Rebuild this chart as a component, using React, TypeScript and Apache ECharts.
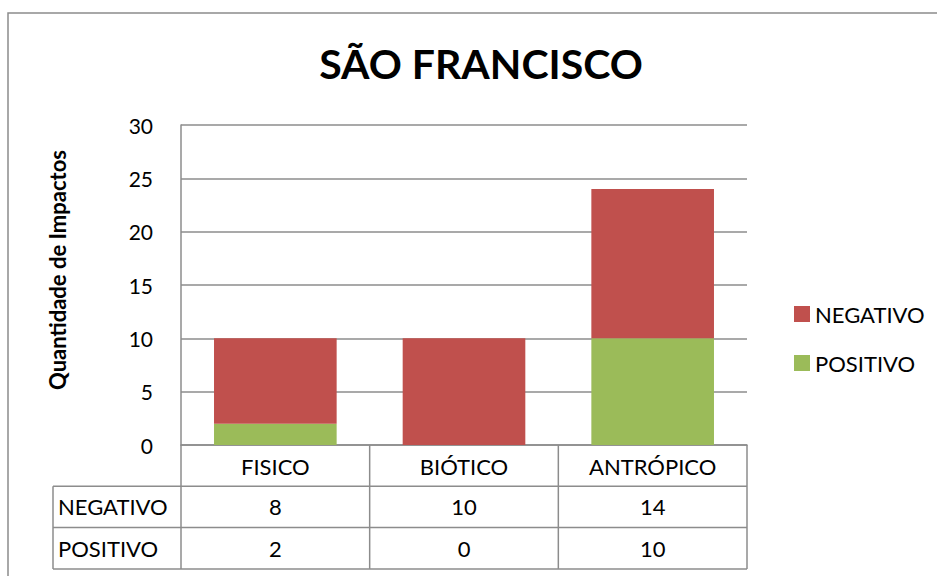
import React, { useEffect, useRef } from "react";
import * as echarts from "echarts";

const TITLE = "SÃO FRANCISCO";
const Y_NAME = "Quantidade de Impactos";
const categories = ["FISICO", "BIÓTICO", "ANTRÓPICO"];
const seriesNames = ["NEGATIVO", "POSITIVO"];
const negativo = [8, 10, 14];
const positivo = [2, 0, 10];
const yTicks = { min: 0, max: 30, interval: 5 };

const RED = "#C0504D";
const GREEN = "#9BBB59";
const LINE = "#8c8c8c";
const FONT = "Lato";

export default function App() {
  const ref = useRef<HTMLDivElement>(null);
  useEffect(() => {
    document.body.style.margin = "0";
    if (!ref.current) return;
    const chart = echarts.init(ref.current, undefined, { renderer: "svg" });

    const W = 937, H = 576;
    const gl = 181, gr = 747, gt = 125, gb = 445;
    const rowH = 41.3;
    const tableLeft = 53;
    const colW = (gr - gl) / categories.length;
    const rowsY = [gb + rowH, gb + 2 * rowH, gb + 3 * rowH];
    const tableBottom = rowsY[2];

    const graphics: any[] = [];
    graphics.push({
      type: "rect",
      shape: { x: 8, y: 13, width: 960, height: 620 },
      style: { fill: "none", stroke: LINE, lineWidth: 1.5 },
      silent: true,
    });
    for (let i = 0; i <= categories.length; i++) {
      const x = gl + i * colW;
      graphics.push({
        type: "line",
        shape: { x1: x, y1: gb, x2: x, y2: tableBottom },
        style: { stroke: LINE, lineWidth: 1.5 },
        silent: true,
      });
    }
    graphics.push({
      type: "line",
      shape: { x1: tableLeft, y1: rowsY[0], x2: tableLeft, y2: tableBottom },
      style: { stroke: LINE, lineWidth: 1.5 },
      silent: true,
    });
    rowsY.forEach((y) => {
      graphics.push({
        type: "line",
        shape: { x1: tableLeft, y1: y, x2: gr, y2: y },
        style: { stroke: LINE, lineWidth: 1.5 },
        silent: true,
      });
    });
    const rowsData = [negativo, positivo];
    seriesNames.forEach((name, r) => {
      const cy = rowsY[r] + rowH / 2;
      graphics.push({
        type: "text",
        x: 58,
        y: cy,
        style: { text: name, fontSize: 22, fontFamily: FONT, fill: "#000", align: "left", verticalAlign: "middle" },
        silent: true,
      });
      rowsData[r].forEach((v, i) => {
        graphics.push({
          type: "text",
          x: gl + (i + 0.5) * colW,
          y: cy,
          style: { text: String(v), fontSize: 22, fontFamily: FONT, fill: "#000", align: "center", verticalAlign: "middle" },
          silent: true,
        });
      });
    });
    graphics.push({
      type: "text",
      x: 57,
      y: 270,
      rotation: Math.PI / 2,
      style: { text: Y_NAME, fontSize: 22, fontWeight: "bold", fontFamily: FONT, fill: "#000", align: "center", verticalAlign: "middle" },
      silent: true,
    });

    chart.setOption({
      animation: false,
      backgroundColor: "#fff",
      title: {
        text: TITLE,
        left: 476,
        top: 38,
        textAlign: "center",
        textStyle: { fontSize: 41, fontWeight: "bold", fontFamily: FONT, color: "#000" },
      },
      legend: {
        orient: "vertical",
        left: 789,
        top: 298,
        itemWidth: 16,
        itemHeight: 16,
        itemGap: 27,
        icon: "rect",
        data: seriesNames,
        textStyle: { fontSize: 22, fontFamily: FONT, color: "#000", lineHeight: 22 },
      },
      grid: { left: gl, right: W - gr, top: gt, bottom: H - gb, containLabel: false },
      xAxis: {
        type: "category",
        data: categories,
        axisLine: { show: true, lineStyle: { color: LINE, width: 1.5 } },
        axisTick: { show: false },
        axisLabel: { fontSize: 22, fontFamily: FONT, color: "#000", margin: 10, interval: 0 },
      },
      yAxis: {
        type: "value",
        min: yTicks.min,
        max: yTicks.max,
        interval: yTicks.interval,
        axisLine: { show: true, lineStyle: { color: LINE, width: 1.5 } },
        axisTick: { show: false },
        splitLine: { show: true, lineStyle: { color: LINE, width: 1.5 } },
        axisLabel: { fontSize: 21, fontFamily: FONT, color: "#000", margin: 28 },
      },
      series: [
        {
          name: "POSITIVO",
          type: "bar",
          stack: "total",
          data: positivo,
          barWidth: "65%",
          itemStyle: { color: GREEN },
        },
        {
          name: "NEGATIVO",
          type: "bar",
          stack: "total",
          data: negativo,
          barWidth: "65%",
          itemStyle: { color: RED },
        },
      ],
      graphic: graphics,
    });
    return () => chart.dispose();
  }, []);
  return <div ref={ref} style={{ width: 937, height: 576 }} />;
}
